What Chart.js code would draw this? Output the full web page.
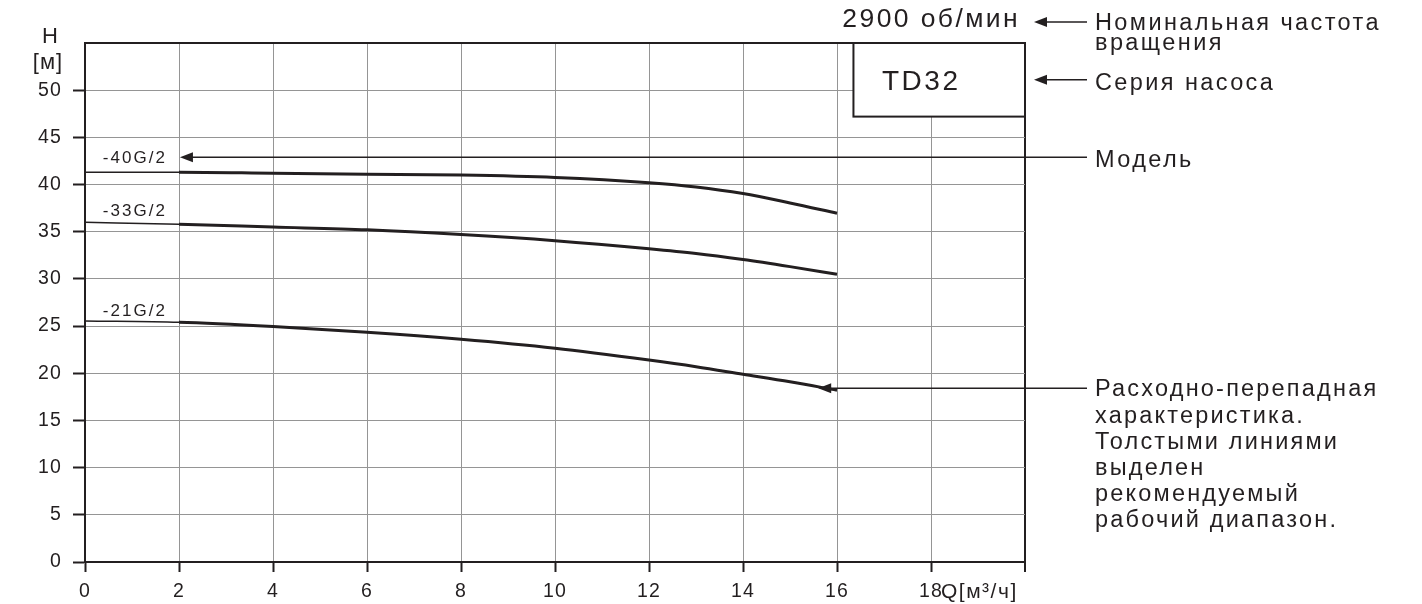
<!DOCTYPE html>
<html>
<head>
<meta charset="utf-8">
<script src="https://cdn.jsdelivr.net/npm/chart.js@4/dist/chart.umd.min.js"></script>
<style>
html,body{margin:0;padding:0;background:#fff;}
#wrap{width:1422px;height:604px;position:relative;}
</style>
</head>
<body>
<div id="wrap"><canvas id="c" width="1422" height="604"></canvas></div>
<script>
// ---- data ----
const Q = [0, 2, 4, 6, 8, 10, 12, 13, 14, 15, 16];
const H_40G2 = [41.3, 41.3, 41.2, 41.1, 41.0, 40.75, 40.2, 39.75, 39.05, 38.05, 36.95];
const H_33G2 = [36.0, 35.8, 35.5, 35.2, 34.7, 34.05, 33.2, 32.7, 32.05, 31.3, 30.5];
const H_21G2 = [25.55, 25.4, 24.95, 24.35, 23.6, 22.65, 21.4, 20.7, 19.9, 19.1, 18.2];
const modelNames = ['-40G/2', '-33G/2', '-21G/2'];
const modelLabelH = [42.9, 37.3, 26.7];
const xTickMax = 20;
const yTickMax = 55;
const rpmText = '2900 об/мин';
const seriesText = 'TD32';
const noteRpm = ['Номинальная частота', 'вращения'];
const noteSeries = ['Серия насоса'];
const noteModel = ['Модель'];
const noteCurve = ['Расходно-перепадная', 'характеристика.', 'Толстыми линиями', 'выделен', 'рекомендуемый', 'рабочий диапазон.'];
const yTitle = ['H', '[м]'];
const xTitle = 'Q[м³/ч]';

const INK = '#231f20';
const GRID = '#959595';
const FONT = '"Liberation Sans", Arial, sans-serif';

function pts(h){ return Q.map((q,i)=>({x:q, y:h[i]})); }
function ds(h){
  return {
    data: pts(h), borderColor: INK, borderWidth: 3, pointRadius: 0,
    cubicInterpolationMode: 'monotone', fill: false,
    segment: { borderWidth: c => (c.p1.parsed.x <= 2.001 ? 1.5 : 3) }
  };
}

const annot = {
  id: 'annot',
  beforeDraw(chart){ chart.ctx.letterSpacing = '1.2px'; },
  afterDraw(chart){
    const {ctx, scales:{x, y}, chartArea:ca} = chart;
    ctx.save();
    ctx.fillStyle = INK; ctx.strokeStyle = INK;
    function arrow(xt, yt, xe){
      ctx.beginPath(); ctx.lineWidth = 1.5;
      ctx.moveTo(xt + 10, yt); ctx.lineTo(xe, yt); ctx.stroke();
      ctx.beginPath(); ctx.moveTo(xt, yt); ctx.lineTo(xt + 13, yt - 5);
      ctx.lineTo(xt + 13, yt + 5); ctx.closePath(); ctx.fill();
    }
    function txt(s, px, py, size, sp, align){
      ctx.font = size + 'px ' + FONT;
      ctx.letterSpacing = sp + 'px';
      ctx.textAlign = align || 'left';
      ctx.textBaseline = 'alphabetic';
      ctx.fillText(s, px, py);
    }
    // series box
    const bx0 = x.getPixelForValue(16.35), by1 = y.getPixelForValue(47.2);
    ctx.fillStyle = '#fff';
    ctx.fillRect(bx0, ca.top, ca.right - bx0, by1 - ca.top);
    ctx.lineWidth = 2; ctx.strokeStyle = INK;
    ctx.strokeRect(bx0, ca.top, ca.right - bx0, by1 - ca.top);
    ctx.fillStyle = INK;
    txt(seriesText, (bx0 + ca.right)/2 - 18, (ca.top + by1)/2 + 10, 28, 2.5, 'center');

    const lineEnd = ca.right + 62, tx = ca.right + 70;
    // rpm
    txt(rpmText, ca.right - 5, 27, 26.5, 2.4, 'right');
    arrow(ca.right + 9, 22, lineEnd);
    txt(noteRpm[0], tx, 30, 23.5, 2.4);
    txt(noteRpm[1], tx, 50, 23.5, 2.4);
    // series
    arrow(ca.right + 9, (ca.top + by1)/2, lineEnd);
    txt(noteSeries[0], tx, 90, 23.5, 2.4);
    // model
    const my = y.getPixelForValue(42.9);
    arrow(x.getPixelForValue(2.02), my, lineEnd);
    txt(noteModel[0], tx, 167, 23.5, 2.4);
    // curve note
    const cy = y.getPixelForValue(18.4);
    arrow(x.getPixelForValue(15.6), cy, lineEnd);
    noteCurve.forEach((s, i) => txt(s, tx, cy + 8 + i*26.2, 23.5, 2.2));
    // model labels
    modelNames.forEach((s, i) => txt(s, x.getPixelForValue(0.38), y.getPixelForValue(modelLabelH[i]) + 6, 17, 2));
    // axis titles
    txt(yTitle[0], 50, 43, 22, 0, 'center');
    txt(yTitle[1], 48, 69, 22, 1, 'center');
    txt(xTitle, x.getPixelForValue(18) + 10, 598, 21, 1.5, 'left');
    ctx.restore();
  }
};

new Chart(document.getElementById('c'), {
  type: 'line',
  data: { datasets: [ds(H_40G2), ds(H_33G2), ds(H_21G2)] },
  options: {
    responsive: false, animation: false, devicePixelRatio: 1,
    layout: { padding: { left: 0, top: 43, right: 397, bottom: 0 } },
    plugins: { legend: {display: false}, tooltip: {enabled: false} },
    scales: {
      x: {
        type: 'linear', min: 0, max: xTickMax,
        ticks: { stepSize: 2, color: INK, padding: 8, font: {size: 19.5, family: FONT},
                 callback: v => (v === xTickMax ? '' : v) },
        grid: { color: c => (c.tick && c.tick.value === xTickMax ? INK : GRID),
                lineWidth: c => (c.tick && c.tick.value === xTickMax ? 2 : 1),
                tickLength: 10, tickColor: INK, tickWidth: 2 },
        border: { color: INK, width: 2 },
        afterFit: s => { s.height = 42; }
      },
      y: {
        min: 0, max: yTickMax,
        ticks: { stepSize: 5, color: INK, padding: 11, font: {size: 19.5, family: FONT},
                 callback: v => (v === yTickMax ? '' : v) },
        grid: { color: c => (c.tick && c.tick.value === yTickMax ? INK : GRID),
                lineWidth: c => (c.tick && c.tick.value === yTickMax ? 2 : 1),
                tickLength: 12,
                tickColor: c => (c.tick && c.tick.value === yTickMax ? 'rgba(0,0,0,0)' : INK),
                tickWidth: 2 },
        border: { color: INK, width: 2 },
        afterFit: s => { s.width = 85; }
      }
    }
  },
  plugins: [annot]
});
</script>
</body>
</html>
